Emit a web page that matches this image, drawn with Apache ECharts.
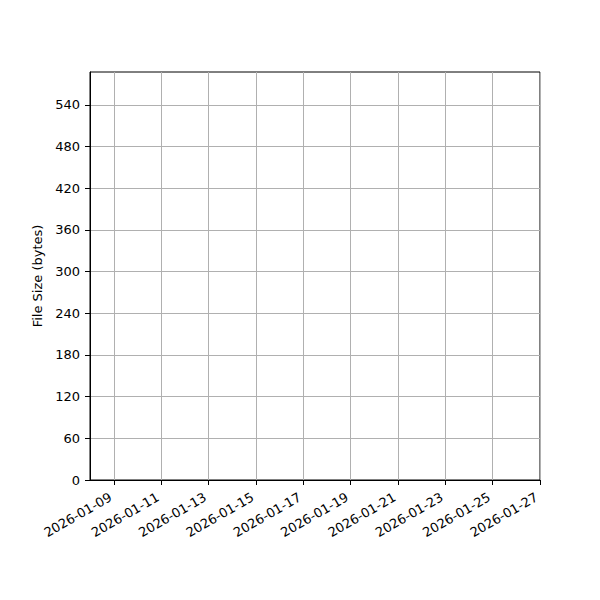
<!DOCTYPE html>
<html>
<head>
<meta charset="utf-8">
<script src="https://cdn.jsdelivr.net/npm/echarts@6/dist/echarts.min.js"></script>
<style>
  html, body { margin: 0; padding: 0; background: #fff; }
  #chart { width: 600px; height: 600px; }
</style>
</head>
<body>
<div id="chart"></div>
<script>
// the reference plots no points: empty series over a dated axis
var fileDates = [];
var fileSizes = [];
var xTickLabels = ['2026-01-09', '2026-01-11', '2026-01-13', '2026-01-15', '2026-01-17',
  '2026-01-19', '2026-01-21', '2026-01-23', '2026-01-25', '2026-01-27'];
var yTickValues = [0, 60, 120, 180, 240, 300, 360, 420, 480, 540];
var xStart = '2026-01-07T23:40:00Z';
var xEnd = '2026-01-27T00:00:00Z';
var yMax = 587.5;

(function() {
  var ink = '#000';
  var gridCol = '#b0b0b0';
  var font = 'DejaVu Sans';

  function ts(s) { return new Date(s.length === 10 ? s + 'T00:00:00Z' : s).getTime(); }
  var xTicks = xTickLabels.map(ts);

  var chart = echarts.init(document.getElementById('chart'), null, { renderer: 'svg' });
  chart.setOption({
    animation: false,
    backgroundColor: '#fff',
    grid: { left: 90, right: 60, top: 72, bottom: 120, show: true, borderColor: ink, borderWidth: 1, containLabel: false },
    xAxis: {
      type: 'value',
      min: ts(xStart),
      max: ts(xEnd),
      axisLine: { show: true, lineStyle: { color: ink, width: 1 } },
      axisTick: { show: true, length: 5, lineStyle: { color: ink }, customValues: xTicks },
      axisLabel: {
        customValues: xTicks,
        rotate: 30,
        color: ink,
        fontFamily: font,
        fontSize: 13,
        margin: 14,
        padding: [0, 4, 0, 0],
        formatter: function(v) { return new Date(v).toISOString().slice(0, 10); }
      },
      splitLine: { show: true, lineStyle: { color: gridCol, width: 1 } }
    },
    yAxis: {
      type: 'value',
      min: 0,
      max: yMax,
      name: 'File Size (bytes)',
      nameLocation: 'middle',
      nameGap: 42,
      nameTextStyle: { color: ink, fontFamily: font, fontSize: 13 },
      axisLine: { show: true, lineStyle: { color: ink, width: 1 } },
      axisTick: { show: true, length: 5, lineStyle: { color: ink }, customValues: yTickValues },
      axisLabel: { customValues: yTickValues, color: ink, fontFamily: font, fontSize: 13, margin: 10 },
      splitLine: { show: true, lineStyle: { color: gridCol, width: 1 } }
    },
    series: [{
      type: 'line',
      data: fileDates.map(function(d, i) { return [ts(d), fileSizes[i]]; }),
      showSymbol: false
    }]
  });
  window.addEventListener('resize', function() { chart.resize(); });
})();
</script>
</body>
</html>
